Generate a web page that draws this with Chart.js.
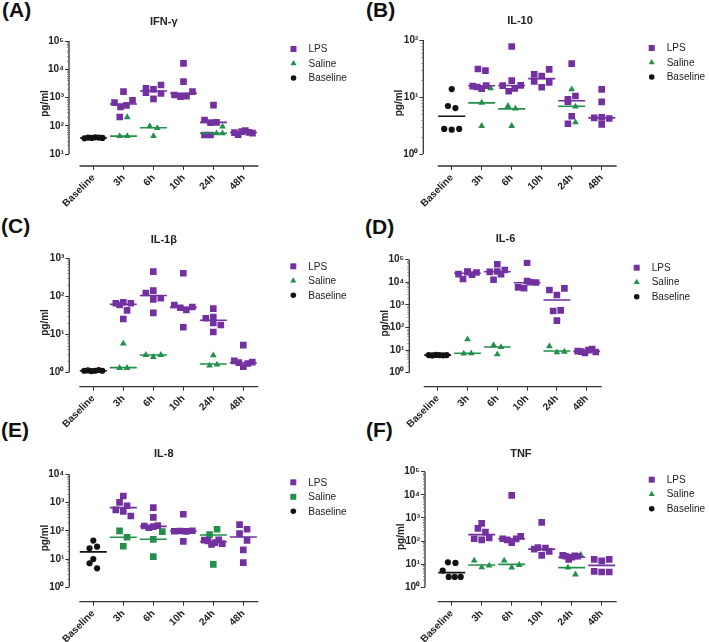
<!DOCTYPE html>
<html>
<head>
<meta charset="utf-8">
<script src="https://cdn.jsdelivr.net/npm/chart.js@4.4.0/dist/chart.umd.min.js"></script>
<style>
  body { margin: 0; background: #fff; width: 709px; height: 642px; position: relative; overflow: hidden; font-family: "Liberation Sans", Arial, sans-serif; }
  .panel { position: absolute; }
  .tag { position: absolute; font-weight: bold; font-size: 21px; line-height: 21px; color: #111; }
</style>
</head>
<body>
<div class="tag" style="left:2px;top:-1px">(A)</div>
<div class="tag" style="left:366px;top:-1px">(B)</div>
<div class="tag" style="left:1px;top:215px">(C)</div>
<div class="tag" style="left:365px;top:216px">(D)</div>
<div class="tag" style="left:1px;top:419px">(E)</div>
<div class="tag" style="left:366px;top:419px">(F)</div>

<div class="panel" style="left:0;top:0"><canvas id="chartA" width="354" height="214"></canvas></div>
<div class="panel" style="left:355px;top:0"><canvas id="chartB" width="354" height="214"></canvas></div>
<div class="panel" style="left:0;top:215px"><canvas id="chartC" width="354" height="214"></canvas></div>
<div class="panel" style="left:355px;top:215px"><canvas id="chartD" width="354" height="214"></canvas></div>
<div class="panel" style="left:0;top:430px"><canvas id="chartE" width="354" height="214"></canvas></div>
<div class="panel" style="left:355px;top:430px"><canvas id="chartF" width="354" height="214"></canvas></div>

<script>
// categories on the x axis
const categories = ['Baseline', '3h', '6h', '10h', '24h', '48h'];
const supDigits = ['\u2070', '\u00b9', '\u00b2', '\u00b3', '\u2074', '\u2075'];

// (A) IFN-γ   (LPS / saline values are listed per category, index 0 = Baseline)
const ifnBaseline = [36, 38, 37, 39, 38, 37];
const ifnBaselineMedian = 37;
const ifnLps = [[], [656, 204, 461, 1620, 525, 795], [2100, 1480, 890, 1950, 1380, 2770], [1230, 1080, 16200, 3640, 1120, 1610], [160, 47, 129, 537, 47, 132], [57, 48, 62, 68, 58, 55]];
const ifnLpsMedian = [null, 590, 1700, 1420, 132, 58];
const ifnSaline = [[], [43, 43, 200], [96, 43, 83], [], [54, 93, 54], []];
const ifnSalineMedian = [null, 43, 85, null, 54, null];

// (B) IL-10
const il10Baseline = [13.8, 6.95, 6.4, 2.75, 2.67, 2.75];
const il10BaselineMedian = 4.6;
const il10Lps = [[], [15.5, 31, 15, 14, 29, 15.8], [77, 15.8, 19.4, 12.6, 14.2, 16], [25, 18.8, 23.4, 30.6, 14.8, 18.1], [38.5, 9.1, 10.4, 8.3, 4.6, 3.4], [13.6, 8.2, 4.3, 3.3, 4.2, 4.4]];
const il10LpsMedian = [null, 15.8, 15.9, 21, 8.6, 4.3];
const il10Saline = [[], [14.2, 7.95, 3.1], [6.95, 6.25, 3.1], [], [13.6, 6.8, 3.6], []];
const il10SalineMedian = [null, 7.9, 6.2, null, 6.9, null];

// (C) IL-1β
const il1bBaseline = [1.1, 1.12, 1.08, 1.1, 1.15, 1.1];
const il1bBaselineMedian = 1.1;
const il1bLps = [[], [65.5, 59, 69.5, 65.5, 42.8, 25.3], [446, 122, 141, 83, 89, 36.6], [403, 59, 50, 43.7, 52.3, 15.3], [47.3, 26.4, 11.5, 20, 17.6, 28.6], [5.2, 2.0, 1.8, 1.4, 1.7, 1.85]];
const il1bLpsMedian = [null, 62, 105, 51, 23.4, 1.78];
const il1bSaline = [[], [5.7, 1.3, 1.3], [2.86, 2.53, 2.86], [], [2.8, 1.5, 1.6], []];
const il1bSalineMedian = [null, 1.33, 2.86, null, 1.66, null];

// (D) IL-6
const il6Baseline = [6, 5.8, 6.1, 6, 5.9, 6];
const il6BaselineMedian = 6;
const il6Lps = [[], [23000, 14000, 28000, 22000, 27000, 30000], [29000, 13000, 30000, 63000, 23000, 35000], [11400, 6000, 74000, 5500, 10000, 9800], [4550, 2730, 5400, 537, 575, 200], [9, 8.5, 7.5, 10, 11, 8.2]];
const il6LpsMedian = [null, 25000, 29500, 9600, 1640, 8.8];
const il6Saline = [[], [7.0, 30, 7.2], [6.5, 16.7, 13.5], [], [14.6, 7.9, 8.5], []];
const il6SalineMedian = [null, 7.2, 13.7, null, 9.1, null];

// (E) IL-8
const il8Baseline = [44.9, 24, 27.5, 10, 7.1, 4.7];
const il8BaselineMedian = 18;
const il8Lps = [[], [1700, 1020, 770, 550, 490, 335], [148, 660, 300, 128, 140, 152], [96, 384, 98, 42, 95, 100], [47, 44, 33, 38, 48, 35], [165, 113, 79, 46, 21, 7.5]];
const il8LpsMedian = [null, 660, 144, 98, 41, 60];
const il8Saline = [[], [99, 59, 28.3], [93, 50, 12.2], [], [73, 113, 6.5], []];
const il8SalineMedian = [null, 59, 50, null, 71, null];

// (F) TNF
const tnfBaseline = [12, 11.3, 5.3, 2.8, 2.8, 2.8];
const tnfBaselineMedian = 4.3;
const tnfLps = [[], [585, 355, 245, 126, 112, 135], [126, 112, 85, 9500, 125, 160], [645, 45, 24, 52, 36, 50], [24, 22, 16, 20, 23, 22], [16.2, 13.8, 16.2, 4.9, 4.6, 4.6]];
const tnfLpsMedian = [null, 189, 126, 45, 20, 8.9];
const tnfSaline = [[], [14.2, 7.3, 8.7], [14.2, 7.1, 9.2], [], [25, 7.1, 3.6], []];
const tnfSalineMedian = [null, 9.2, 9.8, null, 7.1, null];

const PURPLE = '#7331a0';
const GREEN = '#22904a';
const BLACK = '#111111';

Chart.defaults.font.family = '"Liberation Sans", Arial, sans-serif';
Chart.defaults.color = '#222';

// axis lines drawn GraphPad style (y and x axes not touching) + minor log ticks
const axisLines = {
    id: 'axisLines',
    afterDatasetsDraw(chart, args, opts) {
        const ctx = chart.ctx, a = chart.chartArea;
        const x = chart.scales.x, y = chart.scales.y;
        ctx.save();
        ctx.strokeStyle = '#333';
        ctx.lineWidth = 1.3;
        ctx.beginPath();
        ctx.moveTo(a.left, y.getPixelForValue(Math.pow(10, opts.maxExp)));
        ctx.lineTo(a.left, y.getPixelForValue(Math.pow(10, opts.minExp)));
        ctx.moveTo(x.getPixelForValue(opts.xStart), a.bottom);
        ctx.lineTo(a.right, a.bottom);
        ctx.stroke();
        ctx.lineWidth = 0.8;
        ctx.strokeStyle = '#777';
        ctx.beginPath();
        for (let e = opts.minExp; e < opts.maxExp; e++) {
            for (let m = 2; m < 10; m++) {
                const py = Math.round(y.getPixelForValue(m * Math.pow(10, e))) + 0.5;
                ctx.moveTo(a.left - 2, py);
                ctx.lineTo(a.left, py);
            }
        }
        ctx.stroke();
        ctx.restore();
    }
};

// legend to the right of the plot
const sideLegend = {
    id: 'sideLegend',
    afterDraw(chart) {
        const ctx = chart.ctx, a = chart.chartArea;
        chart.data.datasets.forEach(d => {
            if (d.legendRow === undefined) return;
            const lx = a.right + 35, ly = a.top + 8 + d.legendRow * 14.5;
            ctx.save();
            ctx.fillStyle = d.backgroundColor;
            Chart.helpers.drawPoint(ctx, { pointStyle: d.pointStyle, radius: d.pointRadius * 0.9, rotation: 0, borderWidth: 0 }, lx, ly);
            ctx.fillStyle = '#222';
            ctx.font = '10px "Liberation Sans", Arial, sans-serif';
            ctx.textBaseline = 'middle';
            ctx.fillText(d.label, lx + 15, ly + 0.5);
            ctx.restore();
        });
    }
};

// spread points of one column sideways where they would overlap
function spreadColumn(points, thresh, rowStep, halfMax) {
    points.sort((p, q) => p.v - q.v);
    const rows = [];
    let cur = null;
    points.forEach(p => {
        if (cur && Math.log10(p.v) - Math.log10(cur[0].v) < thresh) cur.push(p);
        else { cur = [p]; rows.push(cur); }
    });
    rows.forEach(r => {
        r.sort((p, q) => p.order - q.order);
        const n = r.length;
        const st = n > 1 ? Math.min(rowStep, 2 * halfMax / (n - 1)) : 0;
        r.forEach((p, k) => { p.dx = (k - (n - 1) / 2) * st; });
    });
}

function makePanel(id, title, minExp, maxExp, L, base, baseMed, lps, lpsMed, sal, salMed, salStyle) {
    const W = 354, H = 214;
    const pxDec = (L.lowTick - L.top) / (maxExp - minExp);
    const yMin = Math.pow(10, minExp - (L.axisY - L.lowTick) / pxDec);
    const xMin = -(L.cat0 - L.axisX) / L.step;
    const xMax = 5 + 15 / L.step;
    const padL = L.axisX - 30;
    const padT = L.titleY - 6.6;
    const padR = W - (L.cat0 + 5 * L.step + 15);

    const groups = [
        { label: 'LPS', values: lps, median: lpsMed, color: PURPLE, style: 'rect', r: 4.7 },
        { label: 'Saline', values: sal, median: salMed, color: GREEN, style: salStyle, r: salStyle === 'rect' ? 4.7 : 3.9 },
        { label: 'Baseline', values: [base], median: [baseMed], color: BLACK, style: 'circle', r: 3.1 }
    ];

    const cols = categories.map(() => []);
    let order = 0;
    groups.forEach((g, gi) => {
        g.values.forEach((vals, ci) => {
            vals.forEach(v => cols[ci].push({ g: gi, ci: ci, v: v, order: order++ }));
        });
    });
    cols.forEach(c => spreadColumn(c, 7 / pxDec, 7.5 / L.step, 9 / L.step));

    const datasets = [];
    groups.forEach((g, gi) => {
        const pts = [];
        cols.forEach(c => c.filter(p => p.g === gi).forEach(p => pts.push({ x: p.ci + p.dx, y: p.v })));
        datasets.push({
            label: g.label, data: pts, legendRow: gi, order: 2,
            pointStyle: g.style, pointRadius: g.r, pointBorderWidth: 0,
            backgroundColor: g.color, borderColor: g.color
        });
    });
    groups.forEach(g => {
        const seg = [];
        g.median.forEach((m, i) => {
            if (m === null) return;
            seg.push({ x: i - 0.45, y: m }, { x: i + 0.45, y: m }, { x: i + 0.5, y: null });
        });
        datasets.push({
            label: g.label + ' median', data: seg, order: 1, showLine: true, spanGaps: false,
            pointRadius: 0, borderColor: g.color, borderWidth: 1.6, backgroundColor: g.color
        });
    });

    new Chart(document.getElementById(id), {
        type: 'scatter',
        data: { datasets: datasets },
        options: {
            responsive: false,
            animation: false,
            devicePixelRatio: 1,
            events: [],
            layout: { padding: { left: padL, top: padT, right: padR, bottom: 0 } },
            plugins: {
                legend: { display: false },
                tooltip: { enabled: false },
                title: {
                    display: true, text: title, fullSize: false, color: '#222',
                    font: { size: 11, weight: 'bold' },
                    padding: { top: 0, bottom: L.top - padT - 13.2 }
                },
                axisLines: { minExp: minExp, maxExp: maxExp, xStart: -14 / L.step }
            },
            scales: {
                x: {
                    type: 'linear', min: xMin, max: xMax, bounds: 'data',
                    afterFit: s => { s.height = H - L.axisY; },
                    afterBuildTicks: s => { s.ticks = categories.map((c, i) => ({ value: i })); },
                    grid: { drawOnChartArea: false, drawTicks: true, tickLength: 4, color: '#333' },
                    border: { display: false },
                    ticks: {
                        autoSkip: false, maxRotation: 45, minRotation: 45, padding: 2, color: '#222',
                        font: { size: 10, weight: 'bold' },
                        callback: v => categories[v]
                    }
                },
                y: {
                    type: 'logarithmic', min: yMin, max: Math.pow(10, maxExp), bounds: 'data',
                    afterFit: s => { s.width = 30; },
                    afterBuildTicks: s => {
                        const t = [];
                        for (let e = minExp; e <= maxExp; e++) t.push({ value: Math.pow(10, e), major: true });
                        s.ticks = t;
                    },
                    grid: { drawOnChartArea: false, drawTicks: true, tickLength: 4, color: '#333' },
                    border: { display: false },
                    ticks: {
                        padding: 1, color: '#222', font: { size: 10, weight: 'bold' },
                        callback: v => '10' + supDigits[Math.round(Math.log10(v))]
                    },
                    title: { display: true, text: 'pg/ml', color: '#222', font: { size: 10, weight: 'bold' }, padding: { top: 0, bottom: 0 } }
                }
            }
        },
        plugins: [axisLines, sideLegend]
    });
}

makePanel('chartA', 'IFN-\u03b3', 1, 5, { axisX: 69, top: 41, lowTick: 154, axisY: 166, cat0: 93.5, step: 30, titleY: 22 },
    ifnBaseline, ifnBaselineMedian, ifnLps, ifnLpsMedian, ifnSaline, ifnSalineMedian, 'triangle');
makePanel('chartB', 'IL-10', 0, 2, { axisX: 68.3, top: 40, lowTick: 154, axisY: 166, cat0: 96.7, step: 30, titleY: 21 },
    il10Baseline, il10BaselineMedian, il10Lps, il10LpsMedian, il10Saline, il10SalineMedian, 'triangle');
makePanel('chartC', 'IL-1\u03b2', 0, 3, { axisX: 69.3, top: 43.3, lowTick: 157.3, axisY: 171.7, cat0: 93.3, step: 30, titleY: 25 },
    il1bBaseline, il1bBaselineMedian, il1bLps, il1bLpsMedian, il1bSaline, il1bSalineMedian, 'triangle');
makePanel('chartD', 'IL-6', 0, 5, { axisX: 54.3, top: 44.7, lowTick: 157.7, axisY: 171.7, cat0: 82.7, step: 29.8, titleY: 24 },
    il6Baseline, il6BaselineMedian, il6Lps, il6LpsMedian, il6Saline, il6SalineMedian, 'triangle');
makePanel('chartE', 'IL-8', 0, 4, { axisX: 69.3, top: 44.3, lowTick: 157.3, axisY: 171.7, cat0: 93.3, step: 30, titleY: 24 },
    il8Baseline, il8BaselineMedian, il8Lps, il8LpsMedian, il8Saline, il8SalineMedian, 'rect');
makePanel('chartF', 'TNF', 0, 5, { axisX: 70, top: 41.7, lowTick: 157.3, axisY: 171.7, cat0: 96.7, step: 30, titleY: 24 },
    tnfBaseline, tnfBaselineMedian, tnfLps, tnfLpsMedian, tnfSaline, tnfSalineMedian, 'triangle');
</script>
</body>
</html>
